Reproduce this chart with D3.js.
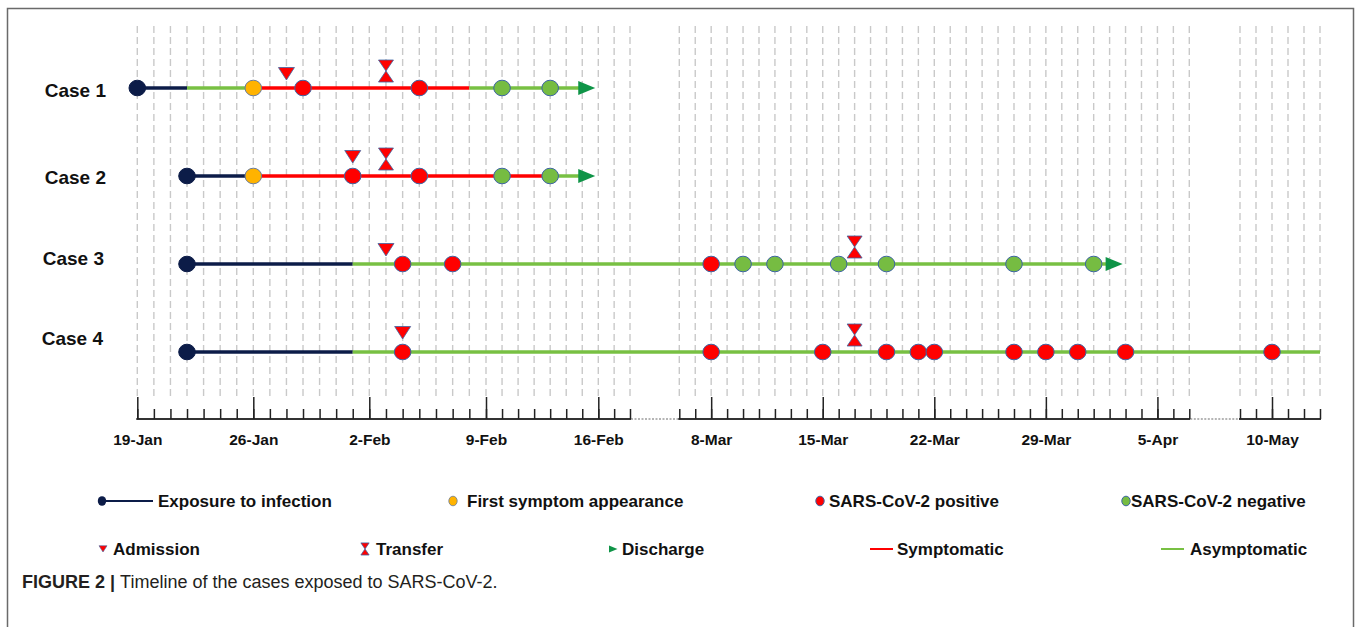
<!DOCTYPE html>
<html>
<head>
<meta charset="utf-8">
<script src="https://cdn.jsdelivr.net/npm/d3@7"></script>
<style>
  html, body { margin: 0; padding: 0; background: #fff; }
  svg { display: block; font-family: "Liberation Sans", Arial, Helvetica, sans-serif; }
</style>
</head>
<body>
<svg id="chart" width="1358" height="627"></svg>
<script>
// cases on the timeline
var cases = ["Case 1", "Case 2", "Case 3", "Case 4"]

// the axis is broken in three pieces
var axisSegments = [
    ["2020-01-19", "2020-02-18"],
    ["2020-03-06", "2020-04-07"],
    ["2020-05-08", "2020-05-13"]
]
var majorTicks = ["2020-01-19", "2020-01-26", "2020-02-02", "2020-02-09", "2020-02-16",
    "2020-03-08", "2020-03-15", "2020-03-22", "2020-03-29", "2020-04-05", "2020-05-10"]
var tickLabels = ["19-Jan", "26-Jan", "2-Feb", "9-Feb", "16-Feb",
    "8-Mar", "15-Mar", "22-Mar", "29-Mar", "5-Apr", "10-May"]

// [case, from, to, state]
var phases = [
    ["Case 1", "2020-01-19", "2020-01-22", "exposure"],
    ["Case 1", "2020-01-22", "2020-01-26", "asymptomatic"],
    ["Case 1", "2020-01-26", "2020-02-08", "symptomatic"],
    ["Case 1", "2020-02-08", "2020-02-15", "asymptomatic"],
    ["Case 2", "2020-01-22", "2020-01-26", "exposure"],
    ["Case 2", "2020-01-26", "2020-02-13", "symptomatic"],
    ["Case 2", "2020-02-13", "2020-02-15", "asymptomatic"],
    ["Case 3", "2020-01-22", "2020-02-01", "exposure"],
    ["Case 3", "2020-02-01", "2020-04-02", "asymptomatic"],
    ["Case 4", "2020-01-22", "2020-02-01", "exposure"],
    ["Case 4", "2020-02-01", "2020-05-13", "asymptomatic"]
]

var exposures = [["Case 1", "2020-01-19"], ["Case 2", "2020-01-22"], ["Case 3", "2020-01-22"], ["Case 4", "2020-01-22"]]
var firstSymptoms = [["Case 1", "2020-01-26"], ["Case 2", "2020-01-26"]]
var positives = [
    ["Case 1", "2020-01-29"], ["Case 1", "2020-02-05"],
    ["Case 2", "2020-02-01"], ["Case 2", "2020-02-05"],
    ["Case 3", "2020-02-04"], ["Case 3", "2020-02-07"], ["Case 3", "2020-03-08"],
    ["Case 4", "2020-02-04"], ["Case 4", "2020-03-08"], ["Case 4", "2020-03-15"], ["Case 4", "2020-03-19"],
    ["Case 4", "2020-03-21"], ["Case 4", "2020-03-22"], ["Case 4", "2020-03-27"], ["Case 4", "2020-03-29"],
    ["Case 4", "2020-03-31"], ["Case 4", "2020-04-03"], ["Case 4", "2020-05-10"]
]
var negatives = [
    ["Case 1", "2020-02-10"], ["Case 1", "2020-02-13"],
    ["Case 2", "2020-02-10"], ["Case 2", "2020-02-13"],
    ["Case 3", "2020-03-10"], ["Case 3", "2020-03-12"], ["Case 3", "2020-03-16"],
    ["Case 3", "2020-03-19"], ["Case 3", "2020-03-27"], ["Case 3", "2020-04-01"]
]
var admissions = [["Case 1", "2020-01-28"], ["Case 2", "2020-02-01"], ["Case 3", "2020-02-03"], ["Case 4", "2020-02-04"]]
var transfers = [["Case 1", "2020-02-03"], ["Case 2", "2020-02-03"], ["Case 3", "2020-03-17"], ["Case 4", "2020-03-17"]]
var discharges = [["Case 1", "2020-02-15"], ["Case 2", "2020-02-15"], ["Case 3", "2020-04-02"]]

var legendRow1 = ["Exposure to infection", "First symptom appearance", "SARS-CoV-2 positive", "SARS-CoV-2 negative"]
var legendRow2 = ["Admission", "Transfer", "Discharge", "Symptomatic", "Asymptomatic"]

// colours
var NAVY = "#0c1c48", RED = "#ff0000", GREEN = "#78c043", DOT_GREEN = "#76bc42",
    ORANGE = "#ffb300", DARK_GREEN = "#0f9447", EDGE = "#3d64a3"
var phaseColor = { exposure: NAVY, symptomatic: RED, asymptomatic: GREEN }

var parse = d3.utcParse("%Y-%m-%d")
var svg = d3.select("#chart")

// frame
svg.append("rect")
    .attr("x", 7.5).attr("y", 8.5).attr("width", 1346).attr("height", 660)
    .attr("fill", "none").attr("stroke", "#6a6a6a").attr("stroke-width", 1.5)

// piecewise time scale; the first piece of the drawn axis is a bit uneven week to week
var x = d3.scaleUtc()
    .domain(["2020-01-19", "2020-01-26", "2020-02-02", "2020-02-09", "2020-02-16", "2020-02-18",
        "2020-03-06", "2020-04-07", "2020-05-08", "2020-05-13"].map(parse))
    .range([137.3, 253.3, 369.3, 486, 598.3, 630, 679.3, 1189.3, 1240, 1320])

var y = d3.scalePoint().domain(cases).range([88, 352])
var axisY = 419

// dashed day gridlines
var days = []
axisSegments.forEach(function (seg) {
    days = days.concat(d3.utcDay.range(parse(seg[0]), d3.utcDay.offset(parse(seg[1]), 1)))
})
svg.append("g").attr("class", "grid")
    .selectAll("line").data(days).join("line")
    .attr("x1", function (d) { return x(d) }).attr("x2", function (d) { return x(d) })
    .attr("y1", 26).attr("y2", 396)
    .attr("stroke", "#c9c9c9").attr("stroke-width", 1.4)
    .attr("stroke-dasharray", "7,4")

// axis: base line per segment, dotted between
var axisG = svg.append("g").attr("transform", "translate(0," + axisY + ")")
axisSegments.forEach(function (seg, i) {
    axisG.append("line")
        .attr("x1", x(parse(seg[0])) - 1).attr("x2", x(parse(seg[1])) + 1)
        .attr("stroke", "#333").attr("stroke-width", 2)
    if (i < axisSegments.length - 1) {
        axisG.append("line")
            .attr("x1", x(parse(seg[1])) + 1).attr("x2", x(parse(axisSegments[i + 1][0])) - 1)
            .attr("stroke", "#b5b5b5").attr("stroke-width", 2)
            .attr("stroke-dasharray", "2,1.5")
    }
})

var minorAxis = d3.axisBottom(x).tickValues(days).tickSize(-10).tickFormat("")
axisG.append("g").call(minorAxis)

var labelOf = {}
majorTicks.forEach(function (d, i) { labelOf[d] = tickLabels[i] })
var majorAxis = d3.axisBottom(x)
    .tickValues(majorTicks.map(parse))
    .tickSize(-22).tickPadding(15)
    .tickFormat(function (d) { return labelOf[d3.utcFormat("%Y-%m-%d")(d)] })
axisG.append("g").call(majorAxis)
    .selectAll("text").attr("font-size", 15.5).attr("font-weight", "bold").attr("fill", "#111")

axisG.selectAll(".domain").remove()
axisG.selectAll(".tick line").attr("stroke", "#222").attr("stroke-width", 1.5)

// case labels
var caseLabelY = [97, 184, 265, 345]
var caseLabelX = [106, 106, 104, 103]
svg.append("g").selectAll("text").data(cases).join("text")
    .attr("x", function (d, i) { return caseLabelX[i] })
    .attr("y", function (d, i) { return caseLabelY[i] })
    .attr("text-anchor", "end")
    .attr("font-size", 19).attr("font-weight", "bold").attr("fill", "#111")
    .text(function (d) { return d })

// phase lines
svg.append("g").selectAll("line").data(phases).join("line")
    .attr("x1", function (d) { return x(parse(d[1])) })
    .attr("x2", function (d) { return x(parse(d[2])) })
    .attr("y1", function (d) { return y(d[0]) })
    .attr("y2", function (d) { return y(d[0]) })
    .attr("stroke", function (d) { return phaseColor[d[3]] })
    .attr("stroke-width", 3.5)

// markers
function dots(data, fill, stroke) {
    svg.append("g").selectAll("ellipse").data(data).join("ellipse")
        .attr("cx", function (d) { return x(parse(d[1])) })
        .attr("cy", function (d) { return y(d[0]) })
        .attr("rx", 8.3).attr("ry", 7.8)
        .attr("fill", fill).attr("stroke", stroke).attr("stroke-width", 1)
}
dots(exposures, NAVY, NAVY)
dots(firstSymptoms, ORANGE, "#6b7c9a")
dots(negatives, DOT_GREEN, EDGE)
dots(positives, RED, EDGE)

var downTri = "M-8,-12.5L8,-12.5L0,0Z"
var hourglass = "M-7.5,-22L7.5,-22L0,-11Z M0,-11L7.5,0L-7.5,0Z"
var rightTri = "M-4,-7L13,0L-4,7Z"

var positiveKeys = positives.map(function (d) { return d.join("|") })
svg.append("g").selectAll("path").data(admissions).join("path")
    .attr("d", downTri)
    .attr("transform", function (d) {
        var lift = positiveKeys.indexOf(d.join("|")) > -1 ? 13 : 8
        return "translate(" + x(parse(d[1])) + "," + (y(d[0]) - lift) + ")"
    })
    .attr("fill", RED).attr("stroke", EDGE).attr("stroke-width", 0.8)

svg.append("g").selectAll("path").data(transfers).join("path")
    .attr("d", hourglass)
    .attr("transform", function (d) { return "translate(" + x(parse(d[1])) + "," + (y(d[0]) - 6) + ")" })
    .attr("fill", RED).attr("stroke", EDGE).attr("stroke-width", 0.8)

svg.append("g").selectAll("path").data(discharges).join("path")
    .attr("d", rightTri)
    .attr("transform", function (d) { return "translate(" + x(parse(d[1])) + "," + y(d[0]) + ")" })
    .attr("fill", DARK_GREEN)

// legend
var legend = svg.append("g").attr("font-size", 17).attr("font-weight", "bold").attr("fill", "#111")
var row1Y = 501, row2Y = 549
var row1TextX = [158, 467, 829, 1131]
var row2TextX = [113, 376, 622, 897, 1190]
legend.selectAll("text.r1").data(legendRow1).join("text").attr("class", "r1")
    .attr("x", function (d, i) { return row1TextX[i] }).attr("y", row1Y + 6).text(function (d) { return d })
legend.selectAll("text.r2").data(legendRow2).join("text").attr("class", "r2")
    .attr("x", function (d, i) { return row2TextX[i] }).attr("y", row2Y + 6).text(function (d) { return d })

// legend symbols
legend.append("line").attr("x1", 102).attr("x2", 153).attr("y1", row1Y).attr("y2", row1Y)
    .attr("stroke", NAVY).attr("stroke-width", 1.8)
legend.append("ellipse").attr("cx", 102).attr("cy", row1Y).attr("rx", 4.2).attr("ry", 4.8).attr("fill", NAVY)
legend.append("ellipse").attr("cx", 453).attr("cy", row1Y).attr("rx", 4.2).attr("ry", 4.8)
    .attr("fill", ORANGE).attr("stroke", "#6b7c9a").attr("stroke-width", 0.8)
legend.append("ellipse").attr("cx", 820).attr("cy", row1Y).attr("rx", 4.2).attr("ry", 4.8)
    .attr("fill", RED).attr("stroke", EDGE).attr("stroke-width", 1)
legend.append("ellipse").attr("cx", 1126).attr("cy", row1Y).attr("rx", 4.2).attr("ry", 4.8)
    .attr("fill", DOT_GREEN).attr("stroke", EDGE).attr("stroke-width", 1)

legend.append("path").attr("d", downTri).attr("transform", "translate(103," + (row2Y + 3) + ") scale(0.5)")
    .attr("fill", RED).attr("stroke", EDGE).attr("stroke-width", 1.2)
legend.append("path").attr("d", hourglass).attr("transform", "translate(365," + (row2Y + 6) + ") scale(0.55)")
    .attr("fill", RED).attr("stroke", EDGE).attr("stroke-width", 1.4)
legend.append("path").attr("d", rightTri).attr("transform", "translate(611," + row2Y + ") scale(0.5)")
    .attr("fill", DARK_GREEN)
legend.append("line").attr("x1", 870).attr("x2", 893).attr("y1", row2Y).attr("y2", row2Y)
    .attr("stroke", RED).attr("stroke-width", 2)
legend.append("line").attr("x1", 1161).attr("x2", 1184).attr("y1", row2Y).attr("y2", row2Y)
    .attr("stroke", GREEN).attr("stroke-width", 2)

// caption
var caption = svg.append("text").attr("x", 22).attr("y", 588).attr("font-size", 18).attr("fill", "#231f20")
caption.append("tspan").attr("font-weight", "bold").text("FIGURE 2 | ")
caption.append("tspan").text("Timeline of the cases exposed to SARS-CoV-2.")
</script>
</body>
</html>
